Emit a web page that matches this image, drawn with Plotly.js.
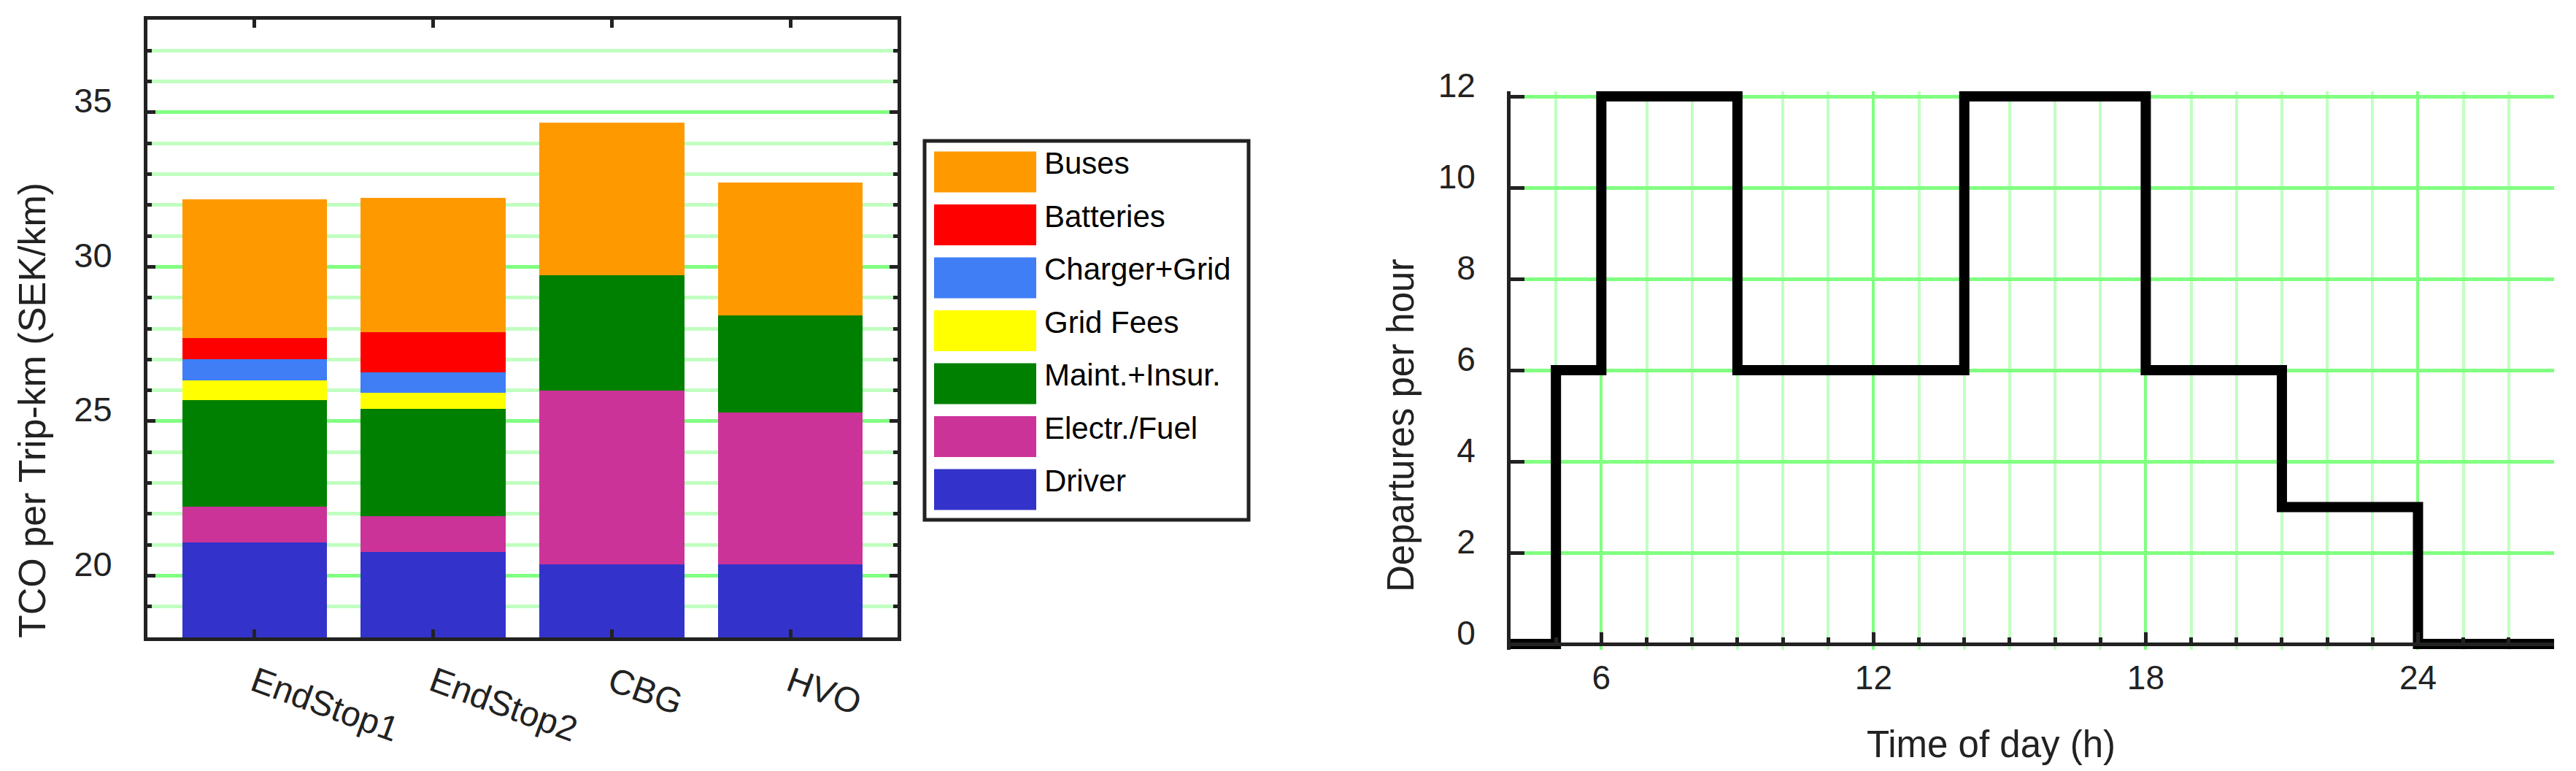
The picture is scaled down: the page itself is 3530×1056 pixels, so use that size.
<!DOCTYPE html>
<html>
<head>
<meta charset="utf-8">
<script src="https://cdn.plot.ly/plotly-3.0.1.min.js"></script>
<style>
  html, body { margin: 0; padding: 0; background: #fff; }
  #chart { width: 3530px; height: 1056px; }
</style>
</head>
<body>
<div id="chart"></div>
<script>
// Left panel: TCO per trip-km, stacked by cost component
const scenarios = ["EndStop1", "EndStop2", "CBG", "HVO"];
const driver    = [21.07, 20.77, 20.36, 20.36];
const electrFuel = [1.16, 1.15, 5.62, 4.92];
const maintIns  = [3.46, 3.47, 3.75, 3.14];
const gridFees  = [0.62, 0.54, 0, 0];
const chargerGrid = [0.70, 0.66, 0, 0];
const batteries = [0.69, 1.30, 0, 0];
const buses     = [4.48, 4.33, 4.94, 4.32];

// Right panel: departure timetable
const hours      = [4, 5, 6, 9, 14, 18, 21, 24, 27];
const departures = [0, 6, 12, 6, 12, 6, 3, 0, 0];

// stack order bottom -> top
const seriesNames  = ["Driver", "Electr./Fuel", "Maint.+Insur.", "Grid Fees", "Charger+Grid", "Batteries", "Buses"];
const seriesValues = [driver, electrFuel, maintIns, gridFees, chargerGrid, batteries, buses];
const seriesColors = ["#3333CC", "#CC3399", "#008000", "#FFFF00", "#407EF6", "#FF0000", "#FF9900"];

const W = 3530, H = 1056;
const px = x => x / W;
const py = y => 1 - y / H;

const FONT = "Liberation Sans, Arial, Helvetica, sans-serif";
const INK = "#222";

const traces = seriesNames.map((name, i) => ({
  type: "bar",
  x: scenarios,
  y: seriesValues[i],
  name: name,
  marker: { color: seriesColors[i], line: { width: 0 } },
  showlegend: false,
  xaxis: "x", yaxis: "y"
}));

traces.push({
  type: "scatter",
  mode: "lines",
  x: hours,
  y: departures,
  line: { shape: "hv", color: "#000", width: 14 },
  showlegend: false,
  xaxis: "x2", yaxis: "y2"
});

// legend drawn by hand (big swatches), top item = last in stack
const shapes = [{
  type: "rect", xref: "paper", yref: "paper",
  x0: px(1267), x1: px(1711), y0: py(193), y1: py(712),
  line: { color: INK, width: 5 }, fillcolor: "#fff", layer: "below"
}];
const annotations = [];
const legendOrder = seriesNames.map((_, i) => i).reverse();
legendOrder.forEach((idx, row) => {
  const top = 207.5 + 72.5 * row;
  shapes.push({
    type: "rect", xref: "paper", yref: "paper",
    x0: px(1280), x1: px(1420), y0: py(top), y1: py(top + 56),
    line: { width: 0 }, fillcolor: seriesColors[idx]
  });
  annotations.push({
    xref: "paper", yref: "paper", x: px(1429), y: py(top + 16),
    xanchor: "left", yanchor: "middle", showarrow: false,
    text: seriesNames[idx], font: { family: FONT, size: 42, color: "#000" }
  });
});

annotations.push(
  { xref: "paper", yref: "paper", x: px(44), y: py(562), textangle: -90,
    xanchor: "center", yanchor: "middle", showarrow: false,
    text: "TCO per Trip-km (SEK/km)", font: { family: FONT, size: 52, color: INK } },
  { xref: "paper", yref: "paper", x: px(1919), y: py(583), textangle: -90,
    xanchor: "center", yanchor: "middle", showarrow: false,
    text: "Departures per hour", font: { family: FONT, size: 51, color: INK } },
  { xref: "paper", yref: "paper", x: px(2728), y: py(1019),
    xanchor: "center", yanchor: "middle", showarrow: false,
    text: "Time of day (h)", font: { family: FONT, size: 51, color: INK } }
);

const layout = {
  width: W, height: H,
  margin: { l: 0, r: 0, t: 0, b: 0, pad: 0 },
  paper_bgcolor: "#fff", plot_bgcolor: "#fff",
  barmode: "stack", bargap: 0.19,
  font: { family: FONT, color: INK },
  xaxis: {
    domain: [px(202), px(1230)], anchor: "y",
    type: "category", range: [-0.6, 3.6],
    showline: true, linewidth: 5, linecolor: INK, mirror: "ticks",
    ticks: "inside", ticklen: 11, tickwidth: 5, tickcolor: INK,
    tickangle: 20, tickfont: { size: 48, color: INK },
    ticklabelstandoff: 10,
    showgrid: false, zeroline: false
  },
  yaxis: {
    domain: [py(873), py(27)], anchor: "x",
    range: [18, 38], tick0: 0, dtick: 5,
    showline: true, linewidth: 5, linecolor: INK, mirror: "ticks",
    ticks: "inside", ticklen: 11, tickwidth: 5, tickcolor: INK,
    tickfont: { size: 47, color: INK },
    ticklabelstandoff: 34, ticklabelshift: -16,
    showgrid: true, gridcolor: "#80FF80", gridwidth: 5,
    minor: { dtick: 1, ticks: "inside", ticklen: 6, tickwidth: 5, tickcolor: INK,
             showgrid: true, gridcolor: "#C0FFC0", gridwidth: 5 },
    zeroline: false
  },
  xaxis2: {
    domain: [px(2070), px(3500)], anchor: "free", position: py(882),
    range: [4, 27], tick0: 0, dtick: 6,
    showline: true, linewidth: 5, linecolor: INK,
    ticks: "inside", ticklen: 14, tickwidth: 5, tickcolor: INK,
    tickfont: { size: 46, color: INK }, ticklabelstandoff: 4,
    showgrid: true, gridcolor: "#80FF80", gridwidth: 4,
    minor: { dtick: 1, ticks: "inside", ticklen: 7, tickwidth: 5, tickcolor: INK,
             showgrid: true, gridcolor: "#C0FFC0", gridwidth: 4 },
    zeroline: false
  },
  yaxis2: {
    domain: [py(889.5), py(124.5)], anchor: "x2",
    range: [-0.12, 12.12], tick0: 0, dtick: 2,
    showline: true, linewidth: 5, linecolor: INK,
    ticks: "inside", ticklen: 19, tickwidth: 5, tickcolor: INK,
    tickfont: { size: 46, color: INK },
    ticklabelstandoff: 34, ticklabelshift: -15,
    showgrid: true, gridcolor: "#80FF80", gridwidth: 5,
    zeroline: false
  },
  shapes: shapes,
  annotations: annotations
};

Plotly.newPlot("chart", traces, layout, { staticPlot: true, displayModeBar: false });
</script>
</body>
</html>
